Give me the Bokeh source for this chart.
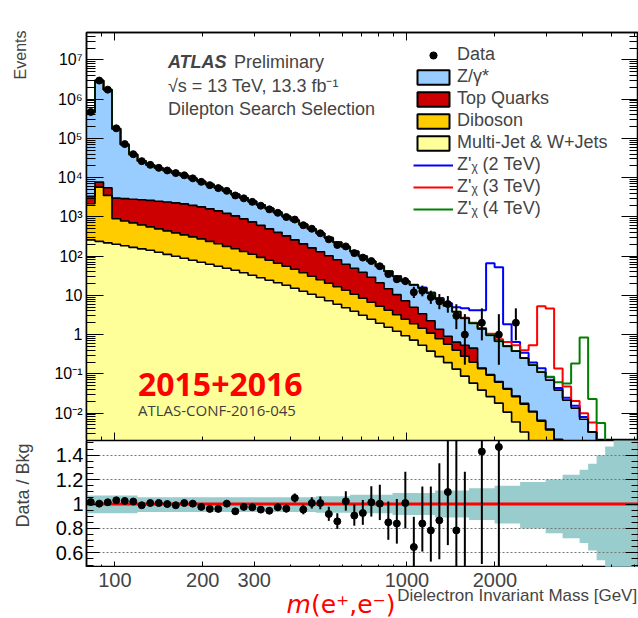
import numpy as np
from bokeh.plotting import figure
from bokeh.layouts import column, row
from bokeh.models import FixedTicker, LogAxis, LinearAxis, Label, Legend, LegendItem, Span
from bokeh.embed import file_html
from bokeh.resources import INLINE

FONT = "Liberation Sans"

# ---------------- binning ----------------
mass_min = 80.0
mass_max = 6200.0
n_bins = 65
bin_log_width = 0.0291

# ---------------- background components (events / bin) ----------------
multijet = [260, 238, 218, 200, 183, 167, 153, 141, 125, 111,
            98.9, 87.9, 78.2, 69.5, 61.8, 55.0, 49.0, 43.5, 37.6, 32.4,
            28.0, 24.2, 20.9, 18.1, 15.2, 12.7, 10.7, 8.95, 7.29, 5.94,
            4.83, 3.94, 3.12, 2.47, 1.95, 1.54, 1.22, 0.938, 0.721, 0.537,
            0.378, 0.274, 0.193, 0.132, 0.0874, 0.0579, 0.0385, 0.0263, 0.0179, 0.0106,
            0.0059, 0.00329, 0.00173, 0.00091, 0.00048, 0.00025, 0.00013, 0.00007, 0.000036, 0.000019,
            0.00001, 0.000005, 0.0000027, 0.0000014, 0.0000007]
diboson = [1908, 5492, 3306, 700, 599, 536, 472, 416, 370, 330,
           293, 260, 232, 206, 176, 151, 128, 110, 94, 79,
           65, 54, 44.7, 36.9, 30.9, 24.9, 19.9, 15.95, 13.0, 10.7,
           8.67, 6.76, 5.31, 4.2, 3.33, 2.64, 1.99, 1.53, 1.17, 0.92,
           0.71, 0.51, 0.377, 0.269, 0.195, 0.141, 0.0975, 0.0664, 0.0436, 0.0302,
           0.0204, 0.0136, 0.0089, 0.00534, 0.00321, 0.0018, 0.00102, 0.00057, 0.0003, 0.00015,
           0.00008, 0.00004, 0.00002, 0.00001, 0.000005]
top_quarks = [1159, 1944, 2009, 2106, 2142, 2115, 2098, 2073, 2011, 1952,
              1878, 1795, 1653, 1520, 1362, 1216, 1050, 906, 757, 635,
              515, 417, 338, 274, 214, 168, 132, 104, 81.7, 63.9,
              48.3, 38.3, 30.3, 22.2, 15.6, 10.5, 7.2, 4.82, 3.09, 1.94,
              1.17, 0.58, 0.34, 0.24, 0.255, 0.252, 0.004, 0.003, 0.002, 0.0015,
              0.001, 0.0008, 0.0005, 0.0003, 0.0002, 0.0001, 0.00006, 0.00003, 0.00002, 0.00001,
              0.000005, 0.000003, 0.000002, 0.000001, 0.0000005]
z_gamma = [460700, 2964000, 1719500, 172500, 67080, 36080, 23880, 18370, 15140, 12850,
           10910, 9240, 7590, 6205, 5110, 4210, 3363, 2681, 2151, 1734,
           1412, 1150, 899, 701, 555, 438, 332, 251, 190, 143.5,
           111.2, 83, 60.2, 44.9, 34.1, 26.3, 20.2, 15.6, 13.5, 12.1,
           9.24, 6.73, 4.55, 3.19, 2.09, 1.50, 1.26, 0.870, 0.616, 0.465,
           0.351, 0.233, 0.155, 0.103, 0.0653, 0.0363, 0.0202, 0.0127, 0.0066, 0.0031,
           0.00135, 0.0006, 0.00028, 0.00013, 0.00006]

# ---------------- data / background (None = empty bin) ----------------
data_over_bkg = [1.016, 1.003, 1.014, 1.03, 1.025, 1.02, 0.99, 1.008, 1.008, 1.0,
                 0.99, 1.008, 1.003, 0.976, 0.96, 0.96, 1.003, 0.94, 0.976, 0.973,
                 0.954, 0.945, 0.973, 0.962, 1.049, 0.954, 1.008, 1.008, 0.918, 0.858,
                 1.022, 0.905, 0.926, 1.014, 1.003, 0.85, 0.84, 1.008, 0.648, 0.84,
                 0.784, 0.866, 1.098, 0.784, 0.38, None, 1.43, None, 1.467, None,
                 5.3, None, None, None, None, None, None, None, None, None,
                 None, None, None, None, None]

# ---------------- systematic band (relative) ----------------
syst_up = [0.07, 0.07, 0.07, 0.07, 0.07, 0.07, 0.055, 0.055, 0.055, 0.055,
           0.055, 0.055, 0.055, 0.055, 0.055, 0.055, 0.055, 0.055, 0.055, 0.055,
           0.055, 0.055, 0.055, 0.055, 0.055, 0.055, 0.055, 0.063, 0.063, 0.063,
           0.063, 0.075, 0.075, 0.075, 0.075, 0.075, 0.09, 0.09, 0.09, 0.09,
           0.09, 0.11, 0.11, 0.11, 0.11, 0.13, 0.13, 0.13, 0.15, 0.15,
           0.15, 0.18, 0.18, 0.18, 0.20, 0.20, 0.24, 0.24, 0.28, 0.33,
           0.40, 0.47, 0.6, 0.6, 0.6]
syst_down = [0.075, 0.075, 0.075, 0.075, 0.075, 0.075, 0.065, 0.065, 0.065, 0.065,
             0.065, 0.065, 0.065, 0.065, 0.065, 0.065, 0.065, 0.065, 0.065, 0.065,
             0.065, 0.065, 0.065, 0.065, 0.065, 0.065, 0.065, 0.072, 0.072, 0.072,
             0.072, 0.075, 0.075, 0.075, 0.075, 0.075, 0.09, 0.09, 0.09, 0.09,
             0.09, 0.11, 0.11, 0.11, 0.11, 0.13, 0.13, 0.13, 0.16, 0.16,
             0.16, 0.20, 0.20, 0.20, 0.24, 0.24, 0.28, 0.28, 0.32, 0.38,
             0.46, 0.55, 0.6, 0.6, 0.6]

# ---------------- Z' signals (added on top of background) ----------------
zp2_first_bin = 38
zp2_signal = [0.2, 0.25, 0.35, 0.5, 0.8, 1.15, 2.07, 2.23, 2.78, 64.6,
              51.2, 1.33, 0.274, 0.095, 0.027, 0.03, 0.013, 0.005, 0.003, 0.002, 0.001]
zp3_first_bin = 44
zp3_signal = [0.05, 0.06, 0.07, 0.08, 0.08, 0.145, 0.16, 0.15, 0.371, 5.17,
              4.54, 0.099, 0.026, 0.007, 0.0029, 0.0025, 0.0004, 0.0001]
zp4_first_bin = 50
zp4_signal = [0.002, 0.003, 0.004, 0.003, 0.0147, 0.023, 0.0356, 0.171, 0.836, 0.0194,
              0.0041, 0.0009, 0.0002]

# ---------------- axis ticks ----------------
x_label_ticks = [100, 200, 300, 1000, 2000]
x_label_texts = ["100", "200", "300", "1000", "2000"]
x_minor_ticks = [80, 90, 400, 500, 600, 700, 800, 900, 3000, 4000, 5000, 6000]
y_ticks = [0.01, 0.1, 1, 10, 100, 1000, 10000, 100000, 1000000, 10000000]
y_tick_labels = ["10⁻²", "10⁻¹", "1", "10", "10²", "10³", "10⁴", "10⁵", "10⁶", "10⁷"]
ratio_ticks = [0.6, 0.8, 1.0, 1.2, 1.4]
ratio_tick_labels = ["0.6", "0.8", "1", "1.2", "1.4"]

C_ZG, C_TOP, C_VV, C_MJ = "#99ccff", "#cc0000", "#ffcc00", "#ffff99"
C_BAND = "#99cccc"

# ---------------- derived ----------------
edges = mass_min * 10 ** (bin_log_width * np.arange(n_bins + 1))
centers = np.sqrt(edges[:-1] * edges[1:])
step_x = np.repeat(edges, 2)[1:-1]


def step_y(v):
    return np.repeat(np.asarray(v, dtype=float), 2)


mj = np.array(multijet, float)
vv = np.array(diboson, float)
tt = np.array(top_quarks, float)
zg = np.array(z_gamma, float)
cum1 = mj
cum2 = cum1 + vv
cum3 = cum2 + tt
bkg = cum3 + zg
floor = np.full(n_bins, 1e-9)


def with_signal(first, sig):
    s = np.zeros(n_bins)
    s[first:first + len(sig)] = sig
    return bkg + s


ratio = np.array([np.nan if r is None else r for r in data_over_bkg])
has = ~np.isnan(ratio)
n_obs = ratio[has] * bkg[has]
x_obs = centers[has]
err_hi = n_obs + np.sqrt(n_obs + 0.75) + 1.0
err_lo = n_obs * (1 - 1 / (9 * n_obs) - 1 / (3 * np.sqrt(n_obs))) ** 3
err_lo = np.maximum(err_lo, 1e-9)

LEFT_W = 34          # width of the strip holding the rotated axis titles
BORDER_L = 86 - LEFT_W


def style_axis(ax, tin, mtin, size, standoff=3, hidden=False):
    ax.major_tick_in = tin
    ax.major_tick_out = 0
    ax.minor_tick_in = mtin
    ax.minor_tick_out = 0
    ax.axis_line_color = "black"
    ax.axis_line_width = 1.5
    ax.major_tick_line_color = "black"
    ax.minor_tick_line_color = "black"
    ax.major_tick_line_width = 1
    ax.minor_tick_line_width = 1
    ax.major_label_text_font = FONT
    ax.major_label_text_font_size = size
    ax.major_label_text_color = "black"
    ax.major_label_standoff = standoff
    if hidden:
        ax.major_label_text_alpha = 0


def nan_src(n=1):
    return [np.nan] * n


# ================= upper pad =================
p1 = figure(width=638 - LEFT_W, height=440, x_axis_type="log", y_axis_type="log",
            x_range=(mass_min, mass_max), y_range=(2e-3, 5e7),
            output_backend="svg", toolbar_location=None,
            min_border_left=BORDER_L, min_border_right=0, min_border_top=32, min_border_bottom=0)
p1.outline_line_color = "black"
p1.outline_line_width = 1.5
p1.xgrid.visible = False
p1.ygrid.visible = False

xt_plain = FixedTicker(ticks=[100, 1000], minor_ticks=[80, 90, 200, 300, 400, 500, 600, 700, 800, 900,
                                                       2000, 3000, 4000, 5000, 6000])
p1.xaxis.ticker = xt_plain
style_axis(p1.xaxis[0], 8, 4, "1px", 0, hidden=True)
top_ax = LogAxis(ticker=xt_plain)
style_axis(top_ax, 8, 4, "1px", 0, hidden=True)
p1.add_layout(top_ax, "above")

y_minor = [k * 10.0 ** e for e in range(-3, 8) for k in range(2, 10)]
yt = FixedTicker(ticks=y_ticks, minor_ticks=y_minor)
p1.yaxis.ticker = yt
p1.yaxis.major_label_overrides = dict(zip(y_ticks, y_tick_labels))
style_axis(p1.yaxis[0], 17, 9, "16px", 4)
right_ax = LogAxis(ticker=yt)
style_axis(right_ax, 17, 9, "1px", 0, hidden=True)
p1.add_layout(right_ax, "right")

# stacked fills
for lo, hi, col in [(floor, cum1, C_MJ), (cum1, cum2, C_VV), (cum2, cum3, C_TOP), (cum3, bkg, C_ZG)]:
    p1.varea(x=step_x, y1=step_y(lo), y2=step_y(hi), fill_color=col)

# signals
l2 = p1.line(step_x, step_y(with_signal(zp2_first_bin, zp2_signal)), line_color="#0000ff", line_width=2)
l3 = p1.line(step_x, step_y(with_signal(zp3_first_bin, zp3_signal)), line_color="#ff0000", line_width=2)
l4 = p1.line(step_x, step_y(with_signal(zp4_first_bin, zp4_signal)), line_color="#008000", line_width=2)

# stack outlines
for c in (cum1, cum2, cum3, bkg):
    p1.line(step_x, step_y(c), line_color="black", line_width=1.6)

# data
p1.segment(x0=x_obs, y0=err_lo, x1=x_obs, y1=err_hi, line_color="black", line_width=2)
p1.scatter(x_obs, n_obs, size=7, fill_color="black", line_color="black")

# legend proxies (no drawable data, only their look is used by the legend)
r_pt = p1.scatter(x=nan_src(), y=nan_src(), marker="circle", size=7, fill_color="black", line_color="black")
r_bar = p1.scatter(x=nan_src(), y=nan_src(), marker="dash", angle=np.pi / 2, size=7,
                   line_color="black", line_width=2)
proxies = []
for col in (C_ZG, C_TOP, C_VV, C_MJ):
    proxies.append(p1.quad(left=nan_src(), right=nan_src(), top=nan_src(), bottom=nan_src(),
                           fill_color=col, line_color="black", line_width=2))
legend = Legend(items=[
    LegendItem(label="Data", renderers=[r_bar, r_pt], index=0),
    LegendItem(label="Z/γ*", renderers=[proxies[0]], index=0),
    LegendItem(label="Top Quarks", renderers=[proxies[1]], index=0),
    LegendItem(label="Diboson", renderers=[proxies[2]], index=0),
    LegendItem(label="Multi-Jet & W+Jets", renderers=[proxies[3]], index=0),
    LegendItem(label="Z'ᵪ (2 TeV)", renderers=[l2]),
    LegendItem(label="Z'ᵪ (3 TeV)", renderers=[l3]),
    LegendItem(label="Z'ᵪ (4 TeV)", renderers=[l4]),
], location=(327, 221), padding=0, margin=0, spacing=1,
    glyph_width=40, glyph_height=18, label_height=18, label_standoff=4,
    label_text_font=FONT, label_text_font_size="18px",
    border_line_color=None, background_fill_alpha=0)
p1.add_layout(legend)

# texts inside the frame
p1.add_layout(Label(x=152, y=9.06e6, text="ATLAS", text_font=FONT, text_font_style="bold italic",
                    text_font_size="18px", text_baseline="middle"))
p1.add_layout(Label(x=255.6, y=9.06e6, text="Preliminary", text_font=FONT,
                    text_font_size="18px", text_baseline="middle"))
p1.add_layout(Label(x=152, y=2.22e6, text="√s = 13 TeV, 13.3 fb⁻¹", text_font=FONT,
                    text_font_size="18px", text_baseline="middle"))
p1.add_layout(Label(x=152, y=5.77e5, text="Dilepton Search Selection", text_font=FONT,
                    text_font_size="18px", text_baseline="middle"))
p1.add_layout(Label(x=120, y=0.0546, text="2015+2016", text_font="Open Sans", text_font_style="bold",
                    text_font_size="32px", text_color="#ff0000", text_baseline="middle"))
p1.add_layout(Label(x=120, y=0.0119, text="ATLAS-CONF-2016-045", text_font="Open Sans",
                    text_font_size="15px", text_color="#404040", text_baseline="middle"))

# ================= ratio pad =================
p2 = figure(width=638 - LEFT_W, height=127, x_axis_type="log", x_range=p1.x_range, y_range=(0.48, 1.52),
            output_backend="svg", toolbar_location=None,
            min_border_left=BORDER_L, min_border_right=0, min_border_top=0, min_border_bottom=0)
p2.outline_line_color = "black"
p2.outline_line_width = 1.5
p2.xgrid.visible = False

xt_lab = FixedTicker(ticks=x_label_ticks, minor_ticks=x_minor_ticks)
p2.xaxis.ticker = xt_lab
style_axis(p2.xaxis[0], 6, 3, "1px", 0, hidden=True)

rt = FixedTicker(ticks=ratio_ticks, minor_ticks=[round(0.5 + 0.05 * i, 2) for i in range(21)])
p2.yaxis.ticker = rt
p2.yaxis.major_label_overrides = dict(zip(ratio_ticks, ratio_tick_labels))
style_axis(p2.yaxis[0], 13, 7, "20px", 3)
r_ax = LinearAxis(ticker=rt)
style_axis(r_ax, 13, 7, "1px", 0, hidden=True)
p2.add_layout(r_ax, "right")
p2.ygrid.grid_line_color = "#777777"
p2.ygrid.grid_line_dash = "2 2"
p2.ygrid.grid_line_width = 1

p2.varea(x=step_x, y1=step_y(1 - np.array(syst_down)), y2=step_y(1 + np.array(syst_up)),
         fill_color=C_BAND, level="underlay")
p2.add_layout(Span(location=1.0, dimension="width", line_color="#ff0000", line_width=3, level="underlay"))

p2.segment(x0=x_obs, y0=err_lo / bkg[has], x1=x_obs, y1=err_hi / bkg[has], line_color="black", line_width=2)
p2.scatter(x_obs, ratio[has], size=7, fill_color="black", line_color="black")

# ================= strip below the pads: x tick labels and x titles =================
p3 = figure(width=638 - LEFT_W, height=618 - 440 - 127, x_axis_type="log", x_range=p1.x_range,
            y_range=(618, 567), output_backend="svg", toolbar_location=None,
            min_border_left=BORDER_L, min_border_right=0, min_border_top=0, min_border_bottom=0,
            x_axis_location=None, y_axis_location=None)
p3.outline_line_color = None
p3.xgrid.visible = False
p3.ygrid.visible = False
pad_ax = LinearAxis(ticker=FixedTicker(ticks=[590]))
style_axis(pad_ax, 0, 0, "1px", 0, hidden=True)
pad_ax.axis_line_alpha = 0
p3.add_layout(pad_ax, "right")
for xv, txt in zip(x_label_ticks, x_label_texts):
    p3.add_layout(Label(x=xv, y=579, text=txt, text_font=FONT, text_font_size="20px",
                        text_align="center", text_baseline="middle"))
p3.add_layout(Label(x=6136, y=595, text="Dielectron Invariant Mass [GeV]", text_font=FONT,
                    text_font_size="17px", text_align="right", text_baseline="middle"))
p3.add_layout(Label(x=469, y=603.5, text="m", text_font="DejaVu Sans", text_font_style="italic",
                    text_font_size="25px", text_color="#ff0000", text_align="right", text_baseline="middle"))
p3.add_layout(Label(x=469, y=603.5, text="(e⁺,e⁻)", text_font="DejaVu Sans",
                    text_font_size="25px", text_color="#ff0000", text_align="left", text_baseline="middle"))

# ================= strip at the left: rotated y titles =================
pl = figure(width=LEFT_W, height=618, x_range=(0, LEFT_W), y_range=(618, 0),
            output_backend="svg", toolbar_location=None, min_border=0,
            x_axis_location=None, y_axis_location=None)
pl.outline_line_color = None
pl.xgrid.visible = False
pl.ygrid.visible = False
pl.add_layout(Label(x=20, y=30, text="Events", angle=np.pi / 2, text_font=FONT,
                    text_font_size="16px", text_align="right", text_baseline="middle"))
pl.add_layout(Label(x=22, y=485, text="Data / Bkg", angle=np.pi / 2, text_font=FONT,
                    text_font_size="18px", text_align="center", text_baseline="middle"))

layout = row(pl, column(p1, p2, p3))
open("out.html", "w").write(file_html(layout, INLINE))
